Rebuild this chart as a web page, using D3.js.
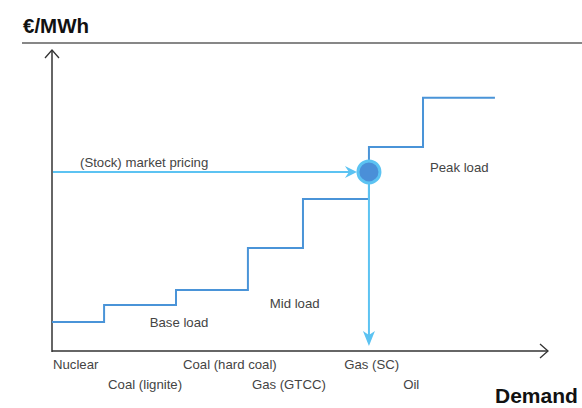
<!DOCTYPE html>
<html>
<head>
<meta charset="utf-8">
<script src="https://cdn.jsdelivr.net/npm/d3@7"></script>
<style>
  body { margin: 0; background: #fff; }
  text { font-family: "Liberation Sans", Arial, sans-serif; }
</style>
</head>
<body>
<svg id="chart" width="582" height="408"></svg>
<script>
// merit order: cumulative capacity (start of each block) and marginal cost
var stepCapacity = [0, 10.5, 25, 39.5, 50.6, 63.9, 74.8, 89.3];
var stepPrice = [9.6, 15.3, 20.3, 34.2, 50.5, 67.8, 84.1, 84.1];

var technologies = ['Nuclear', 'Coal (lignite)', 'Coal (hard coal)', 'Gas (GTCC)', 'Gas (SC)', 'Oil'];
var technologyPos = [0.2, 11.3, 26.4, 40.3, 58.9, 70.8];

var loadLabels = ['Base load', 'Mid load', 'Peak load'];
var loadPos = [[19.7, 7.9], [43.9, 14.2], [76.2, 59.5]];

var marketPrice = 59.5;
var demand = 63.9;

var svg = d3.select('#chart');

var x = d3.scaleLinear().domain([0, 100]).range([52, 548]);
var y = d3.scaleLinear().domain([0, 100]).range([351, 50]);

// header
svg.append('text')
  .attr('x', 23)
  .attr('y', 33)
  .attr('font-size', 20.5)
  .attr('font-weight', 'bold')
  .attr('fill', '#111')
  .text('€/MWh');

svg.append('line')
  .attr('x1', 22).attr('x2', 582)
  .attr('y1', 43).attr('y2', 43)
  .attr('stroke', '#111')
  .attr('stroke-width', 1.2);

// axes
var axisColor = '#333';
svg.append('line')
  .attr('x1', x(0)).attr('x2', x(0))
  .attr('y1', y(0) + 1).attr('y2', y(100))
  .attr('stroke', axisColor).attr('stroke-width', 1.5);
svg.append('path')
  .attr('d', 'M' + (x(0) - 7) + ',' + (y(100) + 8) + 'L' + x(0) + ',' + y(100) + 'L' + (x(0) + 7) + ',' + (y(100) + 8))
  .attr('fill', 'none').attr('stroke', axisColor).attr('stroke-width', 1.3);

svg.append('line')
  .attr('x1', x(0)).attr('x2', x(100))
  .attr('y1', y(0)).attr('y2', y(0))
  .attr('stroke', axisColor).attr('stroke-width', 1.5);
svg.append('path')
  .attr('d', 'M' + (x(100) - 8) + ',' + (y(0) - 7) + 'L' + x(100) + ',' + y(0) + 'L' + (x(100) - 8) + ',' + (y(0) + 7))
  .attr('fill', 'none').attr('stroke', axisColor).attr('stroke-width', 1.3);

svg.append('text')
  .attr('x', 495)
  .attr('y', 403)
  .attr('font-size', 21)
  .attr('font-weight', 'bold')
  .attr('fill', '#111')
  .text('Demand');

// supply curve
var steps = stepCapacity.map(function(c, i) { return [c, stepPrice[i]]; });
var line = d3.line()
  .x(function(d) { return x(d[0]); })
  .y(function(d) { return y(d[1]); })
  .curve(d3.curveStepAfter);

svg.append('path')
  .attr('d', line(steps))
  .attr('fill', 'none')
  .attr('stroke', '#4a94d8')
  .attr('stroke-width', 2);

// market price and demand arrows
var light = '#5cc3f2';
svg.append('line')
  .attr('x1', x(0) + 1).attr('x2', x(demand) - 14)
  .attr('y1', y(marketPrice)).attr('y2', y(marketPrice))
  .attr('stroke', light).attr('stroke-width', 2);
svg.append('path')
  .attr('d', 'M' + (x(demand) - 24) + ',' + (y(marketPrice) - 6) + 'L' + (x(demand) - 12) + ',' + y(marketPrice) + 'L' + (x(demand) - 24) + ',' + (y(marketPrice) + 6) + 'L' + (x(demand) - 20) + ',' + y(marketPrice) + 'Z')
  .attr('fill', light);

svg.append('line')
  .attr('x1', x(demand)).attr('x2', x(demand))
  .attr('y1', y(marketPrice)).attr('y2', y(0) - 12)
  .attr('stroke', light).attr('stroke-width', 2);
svg.append('path')
  .attr('d', 'M' + (x(demand) - 6) + ',' + (y(0) - 20) + 'L' + x(demand) + ',' + (y(0) - 5) + 'L' + (x(demand) + 6) + ',' + (y(0) - 20) + 'L' + x(demand) + ',' + (y(0) - 16) + 'Z')
  .attr('fill', light);

svg.append('circle')
  .attr('cx', x(demand))
  .attr('cy', y(marketPrice))
  .attr('r', 11)
  .attr('fill', '#4a8fd8')
  .attr('stroke', light)
  .attr('stroke-width', 3);

// labels
var labelColor = '#444';
var labelSize = 13.2;
svg.append('text')
  .attr('x', 80)
  .attr('y', 167)
  .attr('font-size', labelSize)
  .attr('fill', labelColor)
  .text('(Stock) market pricing');

svg.selectAll('.tech')
  .data(technologies)
  .enter()
  .append('text')
  .attr('class', 'tech')
  .attr('x', function(d, i) { return x(technologyPos[i]); })
  .attr('y', function(d, i) { return i % 2 === 0 ? 369 : 389; })
  .attr('font-size', labelSize)
  .attr('fill', labelColor)
  .text(function(d) { return d; });

svg.selectAll('.load')
  .data(loadLabels)
  .enter()
  .append('text')
  .attr('class', 'load')
  .attr('x', function(d, i) { return x(loadPos[i][0]); })
  .attr('y', function(d, i) { return y(loadPos[i][1]); })
  .attr('font-size', labelSize)
  .attr('fill', labelColor)
  .text(function(d) { return d; });
</script>
</body>
</html>
